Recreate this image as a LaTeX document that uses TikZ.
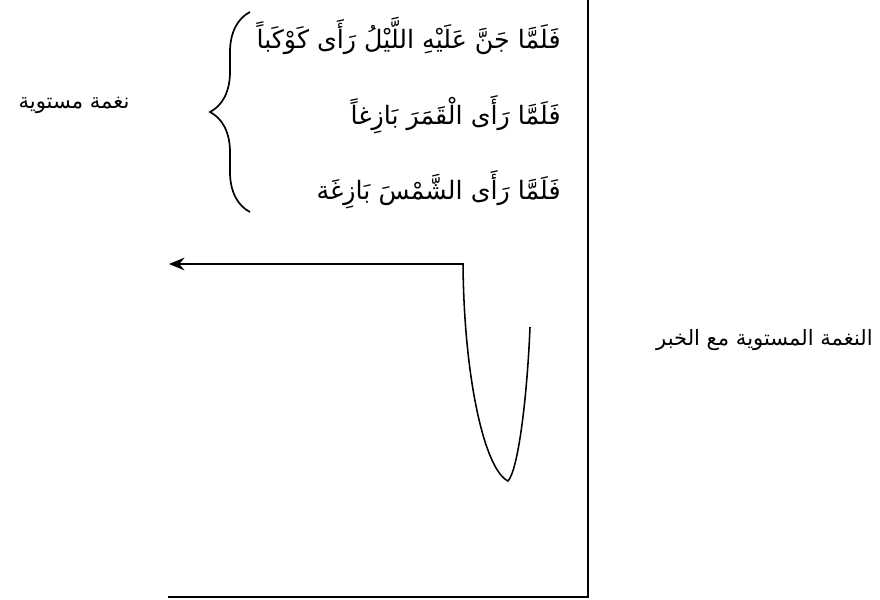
\documentclass[tikz,border=0pt]{standalone}
\usepackage{fontspec}
\usepackage{tikz}
\usetikzlibrary{arrows.meta,decorations.pathreplacing}
\newfontfamily\arabicfont[Script=Arabic]{DejaVu Sans}
\TeXXeTstate=1

\begin{document}
\begin{tikzpicture}[x=0.025cm,y=-0.025cm,
  verse/.style={anchor=east,inner sep=0pt,font=\arabicfont\fontsize{18}{22}\selectfont},
  tag/.style={inner sep=0pt,font=\arabicfont\fontsize{15}{18}\selectfont}]
\useasboundingbox (0,0) rectangle (880,599);
% frame
\draw[line width=1.4pt] (588,0) -- (588,597) -- (168,597);
% verses and brace
\node[verse] (v1) at (561,36) {\beginR فَلَمَّا جَنَّ عَلَيْهِ اللَّيْلُ رَأَى كَوْكَباً\endR};
\node[verse] (v2) at (561,115) {\beginR فَلَمَّا رَأَى الْقَمَرَ بَازِغاً\endR};
\node[verse] (v3) at (561,190) {\beginR فَلَمَّا رَأَى الشَّمْسَ بَازِغَة\endR};
\draw[line width=1.2pt,decorate,decoration={brace,amplitude=1cm}] (250,212) -- (250,12);
\node[tag] (flat) at (74,105) {\beginR نغمة مستوية\endR};
% contour
\coordinate (start) at (530,327);
\coordinate (low) at (508,481);
\coordinate (corner) at (463,264);
\coordinate (tip) at (169,264);
\draw[line width=1.1pt,-{Stealth[length=11pt,width=9pt]}] (start) .. controls (527,400) and (518,470) .. (low)
  .. controls (485,470) and (464,380) .. (corner) -- (tip);
\node[tag,anchor=east] (flatnews) at (873,340) {\beginR النغمة المستوية مع الخبر\endR};
\end{tikzpicture}
\end{document}
